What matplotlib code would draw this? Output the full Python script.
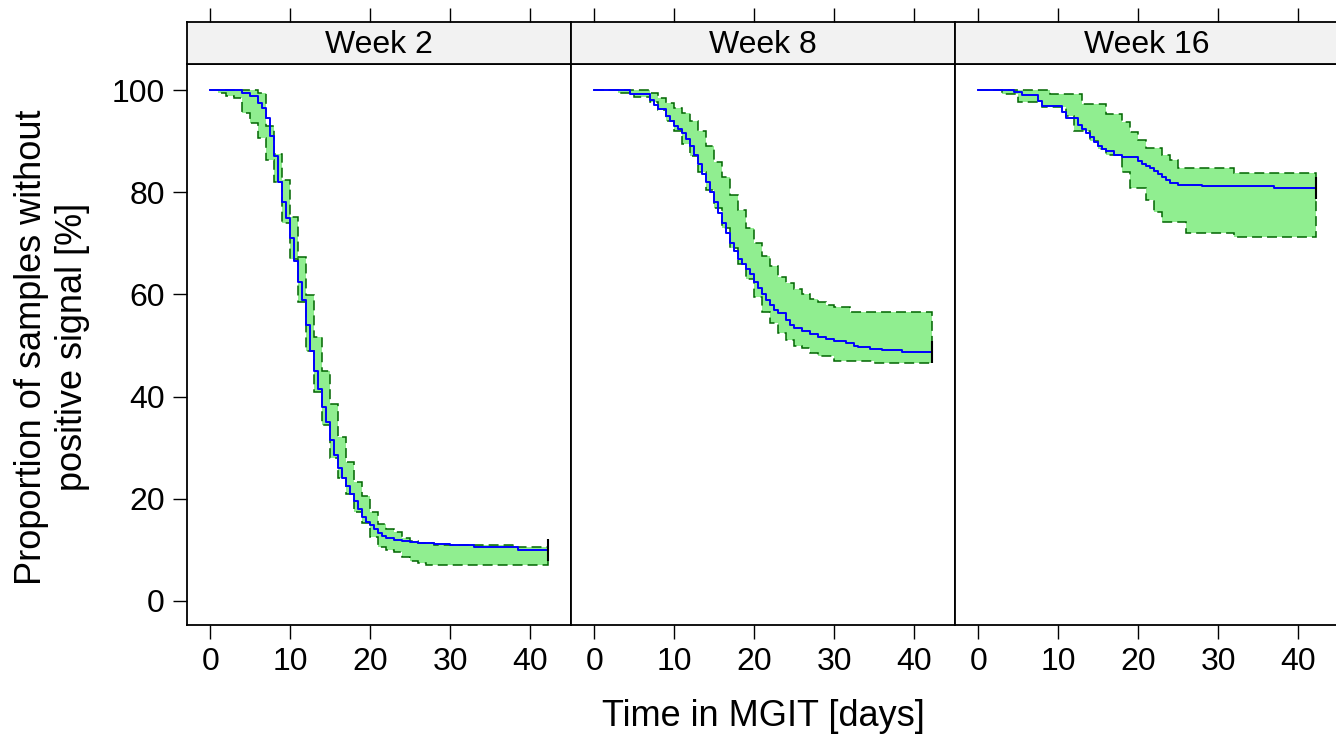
import numpy as np
import matplotlib.pyplot as plt

plt.rcParams['font.family'] = ['Liberation Sans', 'DejaVu Sans']

# confidence bands, value held on [day, day+1)
days = np.arange(0, 43)
t_end = 42.2
panels = ['Week 2', 'Week 8', 'Week 16']

upper_w2 = [100, 100, 100, 100, 100, 100, 99.5, 93, 87.5, 82.4, 75.1, 67.3, 59.9, 51.7, 45,
            38.5, 32, 27.2, 23.3, 20.5, 17.4, 15, 14, 13.5, 12.3, 11.8, 11.4, 11.4, 11.0,
            11.0, 11.0, 11.0, 11.0, 11.0, 11.0, 11.0, 11.0, 11.0, 10.6, 10.6, 10.6, 10.6, 10.6]
lower_w2 = [100, 99.5, 98.8, 98.4, 95.5, 93.5, 90.6, 86.3, 82, 74, 67, 58.5, 49, 41, 34.5, 28,
            24, 21, 17.5, 15.3, 12.5, 10.6, 10.0, 9.5, 8.6, 7.8, 7.4, 7.0, 7.0, 7.0,
            7.0, 7.0, 7.0, 7.0, 7.0, 7.0, 7.0, 7.0, 7.0, 7.0, 7.0, 7.0, 7.0]

upper_w8 = [100, 100, 100, 100, 100, 100, 100, 99.4, 98.5, 97.5, 96.5, 95.5, 94, 92, 89, 86,
            83, 79.5, 76.5, 73, 70, 67.5, 65.5, 63.5, 62.2, 61, 60, 59.2, 58.5, 58, 57.5,
            57.5, 56.6, 56.6, 56.6, 56.6, 56.6, 56.6, 56.6, 56.6, 56.6, 56.6, 56.6]
lower_w8 = [100, 100, 100, 99.4, 99.4, 98.6, 98.6, 97.6, 96, 94, 92, 89.5, 87, 84, 80.5, 77,
            73, 69, 66, 63, 59.5, 56.5, 54.5, 52.5, 51, 50, 49.5, 48.5, 48, 48, 47,
            47, 47, 47, 47, 46.6, 46.6, 46.6, 46.6, 46.6, 46.6, 46.6, 46.6]

upper_w16 = [100, 100, 100, 100, 100, 100, 100, 100, 100, 99.2, 99.2, 99.2, 99.2, 97.3, 97.3,
             97.3, 95.3, 95.3, 93.7, 91.8, 90.2, 88.6, 88.6, 87.3, 86.3, 84.7, 84.7, 84.7,
             84.7, 84.7, 84.7, 84.7, 83.8, 83.8, 83.8, 83.8, 83.8, 83.8, 83.8, 83.8, 83.8,
             83.8, 83.8]
lower_w16 = [100, 100, 100, 99.3, 99.3, 97.7, 97.7, 97.7, 96.7, 96.7, 96.7, 95, 92, 92, 90,
             88.5, 87.3, 87.3, 84, 80.8, 80.8, 78.5, 76.1, 74.2, 74.2, 74.2, 72, 72, 72, 72,
             72, 72, 71.2, 71.2, 71.2, 71.2, 71.2, 71.2, 71.2, 71.2, 71.2, 71.2, 71.2]

# Kaplan-Meier estimate: event times and survival after each
surv_t_w2 = [0, 4, 5, 6, 6.5, 7, 7.5, 8, 8.5, 9, 9.5, 10, 10.5, 11, 11.5, 12, 12.5, 13, 13.5,
             14, 14.5, 15, 15.5, 16, 16.5, 17, 17.5, 18, 18.5, 19, 19.5, 20, 20.5, 21, 21.5,
             22, 23, 24, 25, 26, 28, 30, 33, 38.5]
surv_w2 = [100, 99.5, 98.8, 97.5, 96.5, 94.5, 91, 87, 82, 78, 75, 71, 66.5, 62.5, 59, 54, 49,
           45, 41.5, 38, 35, 31.5, 28.5, 26, 24, 22.5, 21, 19.5, 18, 16.5, 15.5, 14.8, 14,
           13.3, 12.8, 12.3, 12.0, 11.8, 11.6, 11.3, 11.1, 11.0, 10.6, 10.0]

surv_t_w8 = [0, 4.5, 7, 7.5, 8, 9, 9.5, 10, 10.5, 11, 11.5, 12, 12.5, 13, 13.5, 14, 14.5, 15,
             15.5, 16, 16.5, 17, 17.5, 18, 18.5, 19, 19.5, 20, 20.5, 21, 21.5, 22, 22.5, 23,
             24, 24.5, 25, 26, 27, 28, 29, 30, 31.5, 32.5, 33, 34.5, 36, 38.5]
surv_w8 = [100, 99.2, 98, 97, 96.2, 95, 94, 93, 92.3, 91.5, 90.5, 89, 87.3, 85.5, 83.5, 82, 80,
           78, 76, 74, 72, 70, 68.5, 67, 66, 65, 64, 62.5, 61.3, 60, 59, 58, 57, 56.4, 55, 54,
           53.5, 52.8, 52.3, 51.7, 51.3, 50.9, 50.5, 50, 49.7, 49.3, 49.1, 48.7]

surv_t_w16 = [0, 4.5, 5.5, 7.5, 8, 10.5, 11, 12.5, 13, 13.5, 14, 14.5, 15, 15.5, 16, 17, 18,
              20, 20.5, 21, 21.5, 22, 22.5, 23, 23.5, 24, 25, 28, 37]
surv_w16 = [100, 99.6, 99.0, 97.8, 96.9, 95.7, 94.5, 93.2, 92.4, 91.6, 90.8, 89.8, 89.0, 88.4,
            88.0, 87.3, 86.9, 86.2, 85.6, 85.2, 84.8, 84.2, 83.6, 83.0, 82.4, 81.9, 81.5,
            81.2, 80.8]

surv_t = [surv_t_w2, surv_t_w8, surv_t_w16]
surv = [surv_w2, surv_w8, surv_w16]
upper = [upper_w2, upper_w8, upper_w16]
lower = [lower_w2, lower_w8, lower_w16]

xticks = [0, 10, 20, 30, 40]
yticks = [0, 20, 40, 60, 80, 100]


def step_xy(t, v, t_last):
    xs, ys = [], []
    for i in range(len(t)):
        xs.append(t[i])
        ys.append(v[i])
        nxt = t[i + 1] if i + 1 < len(t) else t_last
        xs.append(nxt)
        ys.append(v[i])
    return np.array(xs), np.array(ys)


W, H = 1336, 735
fig = plt.figure(figsize=(W / 100, H / 100), dpi=100)

pw = 384
for k, name in enumerate(panels):
    left = 187 + pw * k
    ax = fig.add_axes([left / W, 1 - 625 / H, pw / W, (625 - 64) / H])
    sx = fig.add_axes([left / W, 1 - 64 / H, pw / W, 42 / H])

    ux, uy = step_xy(days, upper[k], t_end)
    lx, ly = step_xy(days, lower[k], t_end)
    px = np.concatenate([ux, lx[::-1]])
    py = np.concatenate([uy, ly[::-1]])
    ax.fill(px, py, facecolor='#90EE90', edgecolor='#006400', lw=1.1,
            linestyle=(0, (6.5, 3.3)))
    bx, by = step_xy(surv_t[k], surv[k], t_end)
    ax.plot(bx, by, color='#0000FF', lw=1.4)
    ax.plot([t_end], [surv[k][-1]], marker='|', color='black', markersize=16, mew=1.5)

    ax.set_xlim(-2.9, 45.1)
    ax.set_ylim(-4.7, 105.1)
    ax.set_xticks(xticks)
    ax.set_yticks(yticks)
    ax.tick_params(direction='out', length=10, width=1, labelsize=23, pad=6)
    if k > 0:
        ax.tick_params(axis='y', left=False, labelleft=False)
    for s in ax.spines.values():
        s.set_linewidth(1.3)

    sx.set_facecolor('#F2F2F2')
    sx.set_xlim(-2.9, 45.1)
    sx.set_xticks(xticks)
    sx.set_yticks([])
    sx.tick_params(axis='x', top=True, bottom=False, labeltop=False, labelbottom=False,
                   direction='out', length=10, width=1)
    for s in sx.spines.values():
        s.set_linewidth(1.3)
    sx.text(0.5, 0.45, name, transform=sx.transAxes, ha='center', va='center', fontsize=23)

fig.text(52 / W, 1 - 347 / H, 'Proportion of samples without\npositive signal [%]',
         rotation=90, ha='center', va='center', fontsize=26, linespacing=1.2)
fig.text(763 / W, 1 - 716 / H, 'Time in MGIT [days]', ha='center', va='center', fontsize=26)

fig.savefig('out.png', dpi=100)
